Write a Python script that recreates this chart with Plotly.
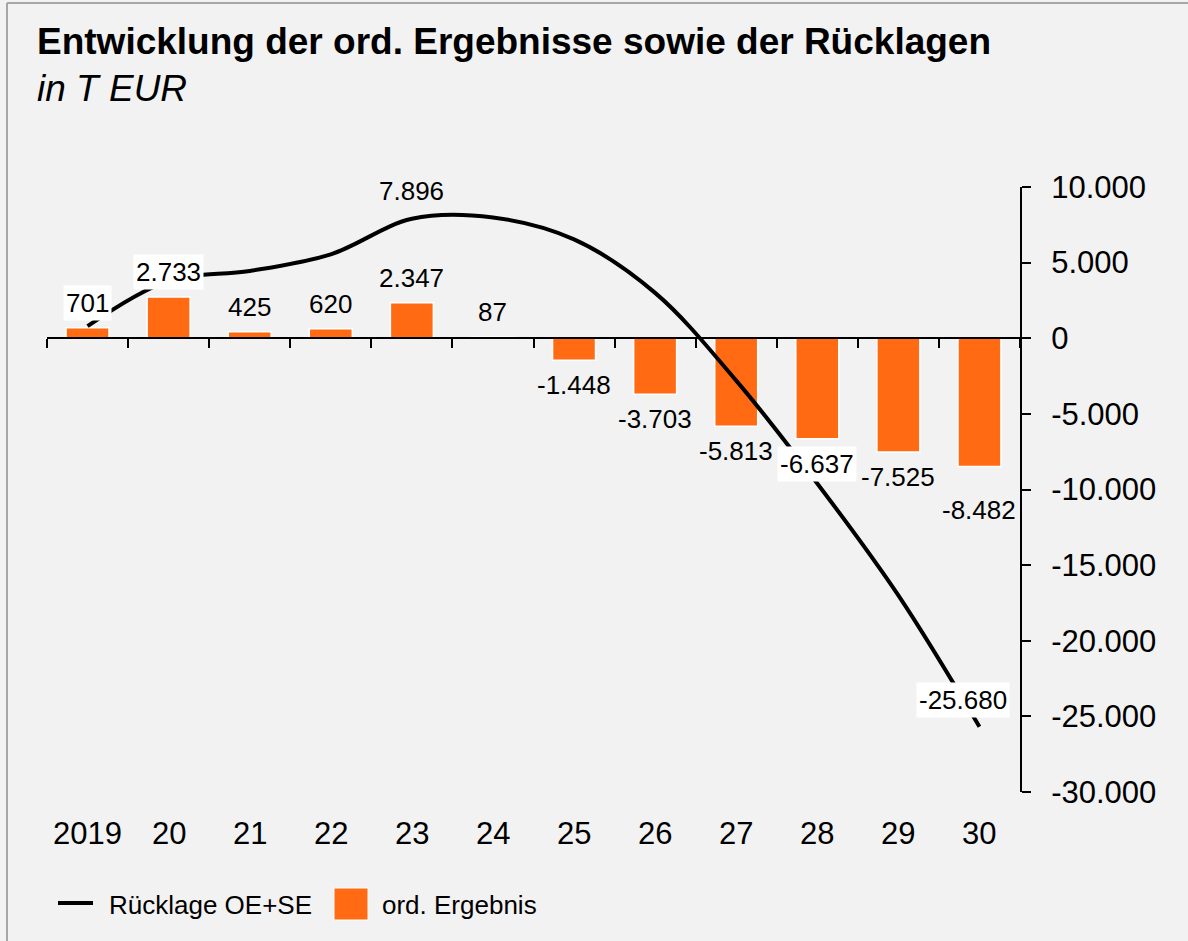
import plotly.graph_objects as go

# ---- data ----
years = ["2019", "20", "21", "22", "23", "24", "25", "26", "27", "28", "29", "30"]
ord_ergebnis = [701, 2733, 425, 620, 2347, 87, -1448, -3703, -5813, -6637, -7525, -8482]
ruecklage = [800, 3800, 4450, 5550, 7896, 7983, 6535, 3000, -2800, -9600, -17000, -25680]
y_ticks = [10000, 5000, 0, -5000, -10000, -15000, -20000, -25000, -30000]
boxed_bar_labels = ["2019", "20", "28"]

def de(v):
    return f"{v:,}".replace(",", ".")

FONT = "Liberation Sans, Arial, sans-serif"
ORANGE = "#FF6A13"
BG = "#F2F2F2"

W, H = 1188, 941
L, R, T, B = 47, 168, 187, 149
PW, PH = W - L - R, H - T - B

def px(xp):
    return (xp - L) / PW

def py(yp):
    return (H - B - yp) / PH

fig = go.Figure()
fig.add_trace(go.Bar(
    x=years, y=ord_ergebnis, name="ord. Ergebnis",
    marker=dict(color=ORANGE, line=dict(color="white", width=1.5)),
    showlegend=False,
))
fig.add_trace(go.Scatter(
    x=years, y=ruecklage, name="Rücklage OE+SE", mode="lines",
    line=dict(color="black", width=4, shape="spline", smoothing=1.0),
    showlegend=False,
))

ann = []
for i, (yr, v) in enumerate(zip(years, ord_ergebnis)):
    boxed = yr in boxed_bar_labels
    shift = 7 if v >= 0 else -7
    if yr == "30":
        shift = -25
    ann.append(dict(
        x=i, y=v, xref="x", yref="y", text=de(v), showarrow=False,
        yanchor="bottom" if v >= 0 else "top", yshift=shift,
        font=dict(family=FONT, size=26, color="black"),
        bgcolor="white" if boxed else "rgba(0,0,0,0)", borderpad=2,
    ))
# line labels
ann.append(dict(x=4, y=ruecklage[4], xref="x", yref="y", text=de(ruecklage[4]),
                showarrow=False, yanchor="bottom", yshift=11,
                font=dict(family=FONT, size=26, color="black")))
n = len(years) - 1
ann.append(dict(x=n, y=ruecklage[n], xref="x", yref="y", text=de(ruecklage[n]),
                showarrow=False, yanchor="middle", yshift=27, xshift=-16,
                bgcolor="white", borderpad=2,
                font=dict(family=FONT, size=26, color="black")))
# category labels at the bottom
for i, yr in enumerate(years):
    ann.append(dict(x=i, y=py(833), xref="x", yref="paper", text=yr, showarrow=False,
                    yanchor="middle", font=dict(family=FONT, size=31, color="black")))
# title
ann.append(dict(x=px(35), y=py(42), xref="paper", yref="paper", xanchor="left", yanchor="middle",
                text="<b>Entwicklung der ord. Ergebnisse sowie der Rücklagen</b>", showarrow=False,
                font=dict(family=FONT, size=37, color="black")))
ann.append(dict(x=px(35), y=py(88), xref="paper", yref="paper", xanchor="left", yanchor="middle",
                text="<i>in T EUR</i>", showarrow=False,
                font=dict(family=FONT, size=37, color="black")))
# legend texts
ann.append(dict(x=px(107), y=py(905), xref="paper", yref="paper", xanchor="left", yanchor="middle",
                text="Rücklage OE+SE", showarrow=False, font=dict(family=FONT, size=26, color="black")))
ann.append(dict(x=px(380), y=py(905), xref="paper", yref="paper", xanchor="left", yanchor="middle",
                text="ord. Ergebnis", showarrow=False, font=dict(family=FONT, size=26, color="black")))

shapes = [
    # legend symbols
    dict(type="line", xref="paper", yref="paper", x0=px(58), x1=px(93), y0=py(903), y1=py(903),
         line=dict(color="black", width=4)),
    dict(type="rect", xref="paper", yref="paper", x0=px(334), x1=px(368), y0=py(888), y1=py(920),
         fillcolor=ORANGE, line=dict(color="white", width=1)),
    # chart frame (left and top visible)
    dict(type="line", xref="paper", yref="paper", x0=px(7), x1=px(7), y0=py(3), y1=py(H + 5),
         line=dict(color="#A6A6A6", width=2)),
    dict(type="line", xref="paper", yref="paper", x0=px(7), x1=px(W + 5), y0=py(3), y1=py(3),
         line=dict(color="#A6A6A6", width=2)),
]

fig.update_layout(
    width=W, height=H,
    margin=dict(l=L, r=R, t=T, b=B, pad=0),
    paper_bgcolor=BG, plot_bgcolor=BG,
    bargap=0.47,
    font=dict(family=FONT, size=26, color="black"),
    annotations=ann, shapes=shapes,
    xaxis=dict(type="category", categoryorder="array", categoryarray=years,
               range=[-0.5, len(years) - 0.5],
               anchor="free", position=0.75,
               showline=True, linecolor="black", linewidth=2,
               ticks="outside", ticklen=9, tickwidth=2, tickcolor="black",
               tickson="boundaries", showticklabels=False, showgrid=False, zeroline=False),
    yaxis=dict(side="right", range=[-30000, 10000], tickvals=y_ticks,
               ticktext=[de(v) for v in y_ticks],
               showline=True, linecolor="black", linewidth=2,
               ticks="outside", ticklen=9, tickwidth=2, tickcolor="black",
               showgrid=False, zeroline=False,
               tickfont=dict(family=FONT, size=31, color="black"),
               ticklabelstandoff=14),
    hovermode=False,
)

fig.write_html("out.html", config={"displayModeBar": False},
               post_script="document.body.style.margin='0';")
